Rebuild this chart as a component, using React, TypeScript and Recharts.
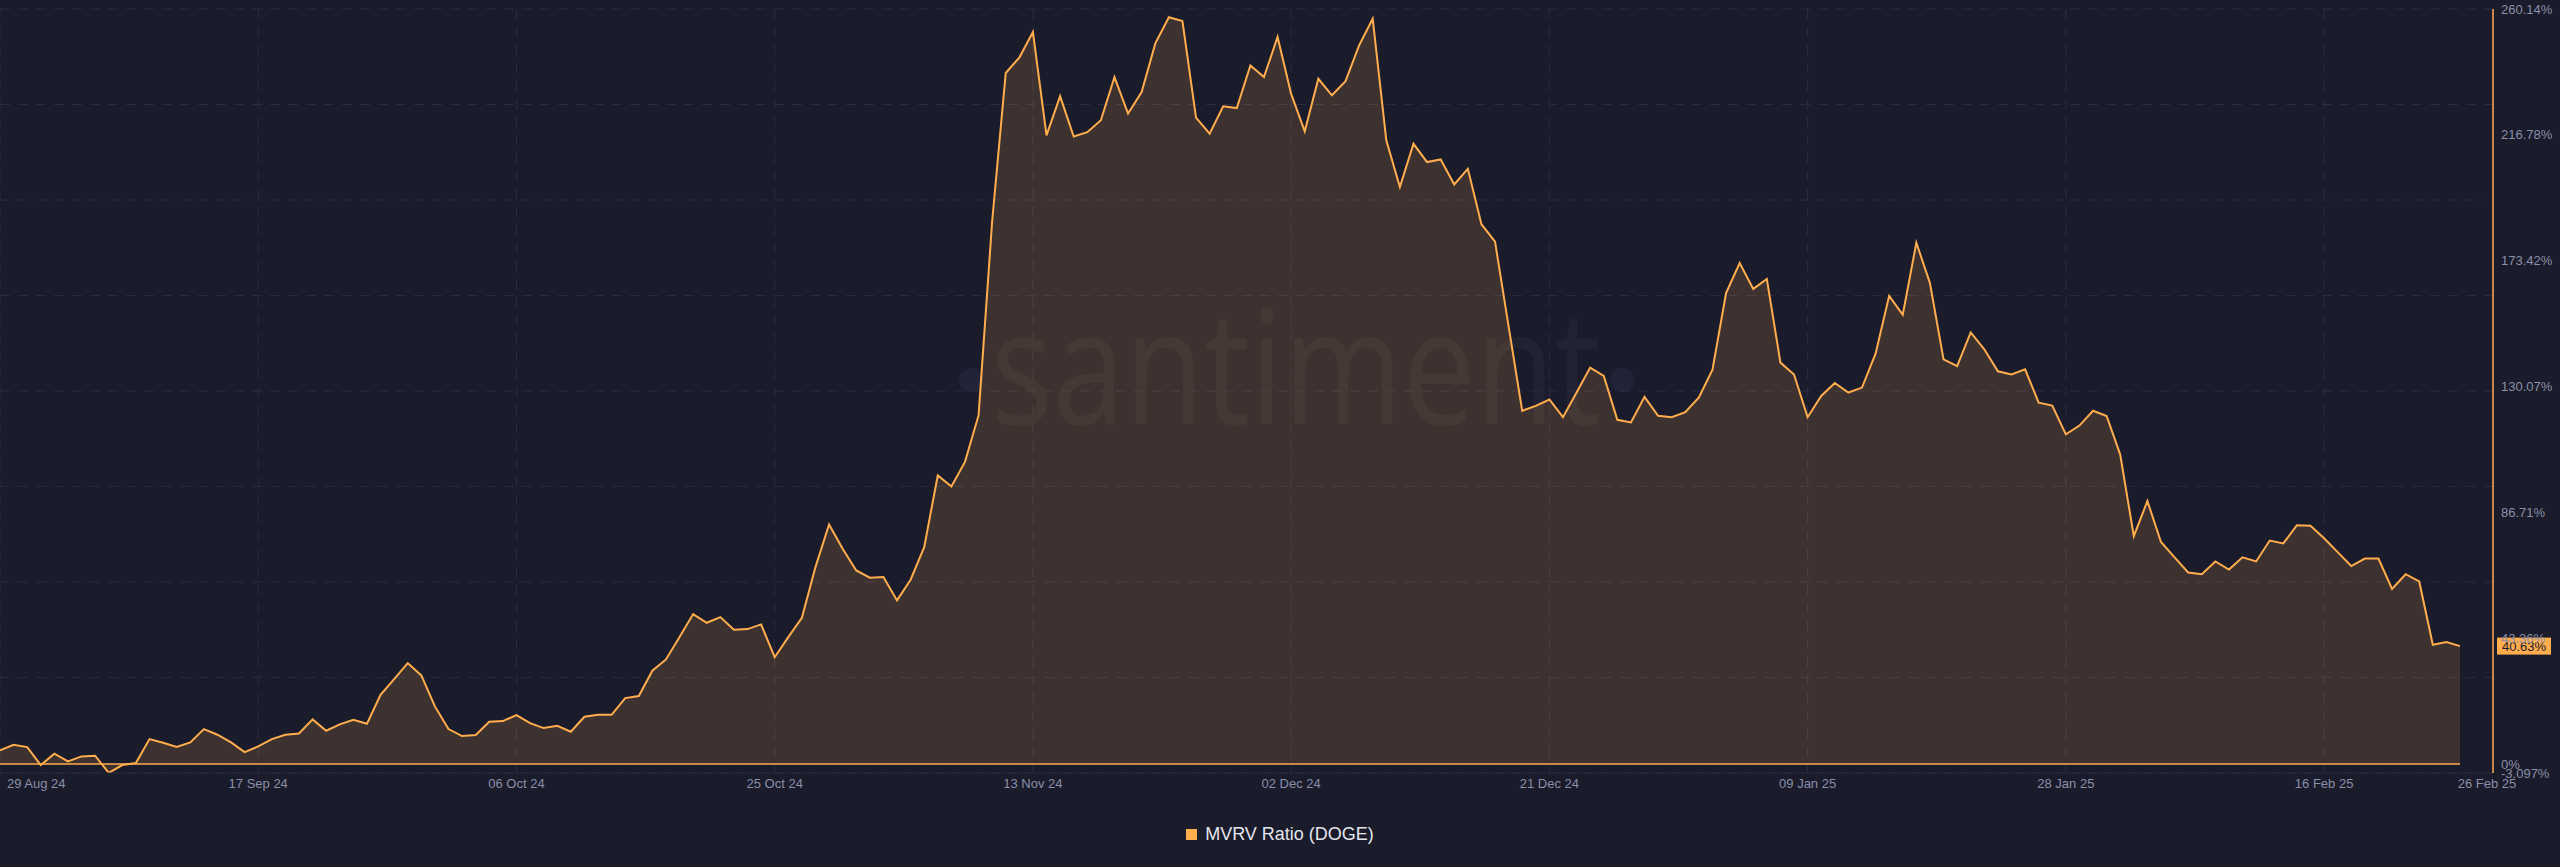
import React from 'react';
import { AreaChart, Area, XAxis, YAxis, CartesianGrid, Legend, ReferenceLine } from 'recharts';

// daily MVRV ratio (DOGE), %, 29 Aug 24 .. 26 Feb 25
const mvrv = [
  4.69, 6.64, 5.84, -0.37, 3.54, 0.9, 2.62, 2.85, -3.05, -0.37,
  0.32, 8.59, 7.33, 5.84, 7.44, 12.04, 10.09, 7.44, 4.11, 6.07,
  8.59, 10.09, 10.54, 15.37, 11.46, 13.64, 15.25, 13.87, 23.86, 29.27,
  34.78, 30.53, 19.85, 12.04, 9.63, 9.97, 14.56, 14.79, 16.86, 14.1,
  12.38, 13.18, 11.12, 16.29, 16.97, 16.97, 22.72, 23.41, 32.13, 36.04,
  43.74, 51.66, 48.67, 50.63, 46.26, 46.49, 48.1, 36.8, 43.7, 50.4,
  67.85, 82.56, 74.18, 66.7, 64.19, 64.4, 56.37, 63.5, 74.74, 99.44,
  95.65, 104.1, 120.1, 187, 238.1, 243.4, 252.2, 216.6, 230.1, 216.2,
  217.7, 221.8, 236.7, 224.1, 231.5, 248.2, 257.3, 256.0, 222.7, 217.2,
  226.6, 226.0, 240.7, 236.7, 250.5, 230.9, 218.0, 236.1, 230.4, 235.3,
  247.6, 256.8, 214.9, 198.8, 213.7, 207.4, 208.3, 199.7, 205.1, 186.0,
  180.0, 150.8, 121.7, 123.4, 125.6, 119.5, 128.0, 136.6, 133.7, 118.6,
  117.7, 126.5, 120.0, 119.5, 121.2, 126.3, 135.9, 162.3, 172.6, 163.7,
  167.1, 138.3, 134.2, 119.5, 126.8, 131.3, 128.0, 129.7, 141.4, 161.3,
  154.8, 179.6, 165.7, 139.4, 137.1, 148.7, 142.9, 135.3, 134.2, 136.0,
  124.5, 123.5, 113.6, 116.6, 121.7, 119.9, 106.6, 78.5, 90.6, 76.5,
  71.2, 66.0, 65.4, 69.8, 67.0, 71.2, 69.8, 77.0, 76.0, 82.3,
  82.1, 77.8, 73.0, 68.2, 70.8, 70.8, 60.3, 65.4, 62.9, 41.1,
  42.0, 40.63,
];

const MONTHS = ['Jan', 'Feb', 'Mar', 'Apr', 'May', 'Jun', 'Jul', 'Aug', 'Sep', 'Oct', 'Nov', 'Dec'];
const START = Date.UTC(2024, 7, 29);

const fmtDate = (ms: number) => {
  const d = new Date(ms);
  const dd = String(d.getUTCDate()).padStart(2, '0');
  return `${dd} ${MONTHS[d.getUTCMonth()]} ${String(d.getUTCFullYear()).slice(2)}`;
};

const dates = mvrv.map((_, i) => fmtDate(START + i * 86400000));

const xTicks = [
  '29 Aug 24', '17 Sep 24', '06 Oct 24', '25 Oct 24', '13 Nov 24', '02 Dec 24',
  '21 Dec 24', '09 Jan 25', '28 Jan 25', '16 Feb 25', '26 Feb 25',
];
const gridDates = xTicks.slice(0, 10);

const yTicks = [-3.097, 0, 43.36, 86.71, 130.07, 173.42, 216.78, 260.14];
const gridLevels = [-3.097, 29.8, 62.71, 95.61, 128.52, 161.42, 194.33, 227.23, 260.14];

const data = dates.map((date, i) => ({ date, mvrv: mvrv[i] }));
const lastValue = mvrv[mvrv.length - 1];

const ORANGE = '#ffad4d';
const BG = '#1a1b2b';
const MUTED = '#8a90a8';

const XTick = (props: any) => {
  const { x, y, payload } = props;
  const first = payload.value === xTicks[0];
  const last = payload.value === xTicks[xTicks.length - 1];
  return (
    <text
      x={x + (first ? 7 : last ? 27 : 0)}
      y={y}
      dy="0.5em"
      textAnchor={first ? 'start' : 'middle'}
      fill={MUTED}
      fontSize={13}
      fontFamily="'Liberation Sans', Arial, sans-serif"
    >
      {payload.value}
    </text>
  );
};

const YTick = (props: any) => {
  const { x, y, payload } = props;
  return (
    <text
      x={x}
      y={y}
      dy="0.35em"
      textAnchor="start"
      fill={MUTED}
      fontSize={13}
      fontFamily="'Liberation Sans', Arial, sans-serif"
    >
      {`${payload.value}%`}
    </text>
  );
};

const LastValueLabel = (props: any) => {
  const { viewBox } = props;
  if (!viewBox) return null;
  const bx = viewBox.x + viewBox.width + 4;
  return (
    <g>
      <rect x={bx} y={viewBox.y - 8.5} width={54} height={17} fill={ORANGE} />
      <text
        x={bx + 27}
        y={viewBox.y}
        dy="0.35em"
        textAnchor="middle"
        fill="#1a1b2b"
        fontSize={13}
        fontFamily="'Liberation Sans', Arial, sans-serif"
      >
        {`${lastValue}%`}
      </text>
    </g>
  );
};

const LegendContent = () => (
  <div
    style={{
      height: 40,
      display: 'flex',
      alignItems: 'center',
      justifyContent: 'center',
      fontFamily: "'Liberation Sans', Arial, sans-serif",
      fontSize: 18,
      color: '#e4e5ec',
    }}
  >
    <span style={{ width: 11, height: 11, background: ORANGE, marginRight: 8, display: 'inline-block' }} />
    MVRV Ratio (DOGE)
  </div>
);

const Watermark = () => (
  <svg width={2560} height={867} style={{ position: 'absolute', left: 0, top: 0, pointerEvents: 'none' }}>
    <circle cx={971} cy={380} r={12} fill="#5a6aa8" fillOpacity={0.12} />
    <text
      x={991}
      y={424}
      textLength={610}
      lengthAdjust="spacingAndGlyphs"
      fontSize={160}
      fontFamily="'Open Sans', sans-serif"
      fill="#ffffff"
      fillOpacity={0.035}
    >
      santiment
    </text>
    <circle cx={1622} cy={380} r={12} fill="#5a6aa8" fillOpacity={0.12} />
  </svg>
);

export default function App() {
  return (
    <div style={{ position: 'absolute', left: 0, top: 0, width: 2560, height: 867, background: BG, overflow: 'hidden' }}>
      <Watermark />
      <div style={{ position: 'absolute', left: 0, top: 0 }}>
        <AreaChart width={2560} height={867} data={data} margin={{ top: 9, right: 0, left: 0, bottom: 13 }}>
          <CartesianGrid
            stroke="#2a2d42"
            strokeDasharray="10 8"
            horizontalValues={gridLevels}
            verticalValues={gridDates}
          />
          <XAxis
            dataKey="date"
            ticks={xTicks}
            interval={0}
            tick={<XTick />}
            tickLine={false}
            axisLine={{ stroke: '#25283c' }}
            height={41}
            padding={{ left: 0, right: 33 }}
          />
          <YAxis
            orientation="right"
            width={67}
            domain={[-3.097, 260.14]}
            ticks={yTicks}
            interval={0}
            tick={<YTick />}
            tickLine={false}
            axisLine={{ stroke: ORANGE, strokeWidth: 1.5 }}
            allowDataOverflow
          />
          <Area
            type="linear"
            dataKey="mvrv"
            stroke={ORANGE}
            strokeWidth={2}
            fill={ORANGE}
            fillOpacity={0.16}
            dot={false}
            activeDot={false}
            isAnimationActive={false}
          />
          <ReferenceLine
            segment={[{ x: dates[0], y: 0 }, { x: dates[dates.length - 1], y: 0 }]}
            stroke={ORANGE}
            strokeWidth={1.5}
          />
          <ReferenceLine y={lastValue} stroke="none" label={<LastValueLabel />} />
          <Legend verticalAlign="bottom" content={<LegendContent />} />
        </AreaChart>
      </div>
    </div>
  );
}
